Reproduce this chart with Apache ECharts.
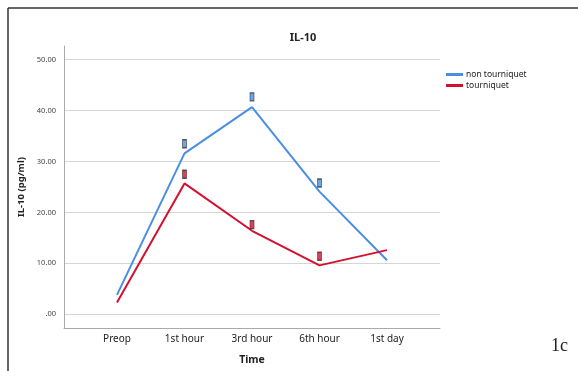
<!DOCTYPE html>
<html>
<head>
<meta charset="utf-8">
<script src="https://cdn.jsdelivr.net/npm/echarts@6/dist/echarts.min.js"></script>
<style>html,body{margin:0;padding:0;background:#fff;}#c{width:578px;height:371px;}</style>
</head>
<body>
<div id="c"></div>
<script>
var categories = ["Preop", "1st hour", "3rd hour", "6th hour", "1st day"];
var nonTourniquet = [3.8, 31.6, 40.7, 24.1, 10.6];
var tourniquet = [2.3, 25.7, 16.4, 9.6, 12.6];
var nonTourniquetMarks = [null, 33.5, 42.7, 25.8, null];
var tourniquetMarks = [null, 27.5, 17.6, 11.4, null];
var yTickValues = [0, 10, 20, 30, 40, 50];
var yTickLabels = [".00", "10.00", "20.00", "30.00", "40.00", "50.00"];

function toPairs(arr) {
  var out = [];
  arr.forEach(function (v, i) { if (v !== null) out.push([i, v]); });
  return out;
}

var BLUE = "#4A8FE4", RED = "#D4102E";
var chart = echarts.init(document.getElementById('c'), null, {renderer: 'canvas'});
chart.setOption({
  animation: false,
  backgroundColor: '#fff',
  title: {
    text: 'IL-10', left: 298, top: 27, textAlign: 'center',
    textStyle: {fontFamily: 'Noto Sans', fontSize: 11, fontWeight: 'bold', color: '#222'}
  },
  legend: {
    left: 441, top: 65, orient: 'vertical', itemGap: 2,
    itemWidth: 17, itemHeight: 3, icon: 'rect',
    textStyle: {fontFamily: 'Noto Sans', fontSize: 8.5, color: '#222', padding: [0,0,0,-2]},
    data: ['non tourniquet', 'tourniquet']
  },
  grid: {left: 64, right: 138, top: 46, bottom: 42, containLabel: false},
  xAxis: {
    type: 'value', min: -0.785, max: 4.785,
    name: 'Time', nameLocation: 'middle', nameGap: 27,
    nameTextStyle: {fontFamily: 'Noto Sans', fontSize: 10.5, fontWeight: 'bold', color: '#222'},
    axisLine: {show: true, onZero: false, lineStyle: {color: '#aaa', width: 1}},
    axisTick: {show: false, customValues: [0,1,2,3,4]},
    axisLabel: {customValues: [0,1,2,3,4], margin: 6,
      fontFamily: 'Noto Sans', fontSize: 10, color: '#222',
      formatter: function (v) { return categories[Math.round(v)]; }},
    splitLine: {show: false}
  },
  yAxis: {
    type: 'value', min: -2.7, max: 52.7,
    name: 'IL-10 (pg/ml)', nameLocation: 'middle', nameGap: 34, nameRotate: 90,
    nameTextStyle: {fontFamily: 'Noto Sans', fontSize: 9.5, fontWeight: 'bold', color: '#222'},
    axisLine: {show: true, onZero: false, lineStyle: {color: '#aaa', width: 1}},
    axisTick: {show: false, customValues: yTickValues},
    axisLabel: {customValues: yTickValues, margin: 8,
      fontFamily: 'Noto Sans', fontSize: 7.5, color: '#444',
      formatter: function (v) { return yTickLabels[yTickValues.indexOf(Math.round(v))]; }},
    splitLine: {show: true, lineStyle: {color: '#d6d6d6', width: 1.2}}
  },
  graphic: [
    {type: 'line', shape: {x1: 8, y1: 8, x2: 578, y2: 8}, style: {stroke: '#333', lineWidth: 1.5}},
    {type: 'line', shape: {x1: 8, y1: 8, x2: 8, y2: 371}, style: {stroke: '#333', lineWidth: 1.5}},
    {type: 'text', left: 551, top: 337, style: {text: '1c', font: '18px "Liberation Serif"', fill: '#222'}}
  ],
  series: [
    {name: 'non tourniquet', type: 'line', data: toPairs(nonTourniquet), symbol: 'none',
      lineStyle: {color: BLUE, width: 2}, itemStyle: {color: BLUE}, z: 3},
    {name: 'tourniquet', type: 'line', data: toPairs(tourniquet), symbol: 'none',
      lineStyle: {color: RED, width: 2}, itemStyle: {color: RED}, z: 3},
    {name: 'nt-mark', type: 'scatter', data: toPairs(nonTourniquetMarks), symbol: 'rect',
      symbolSize: [4, 8], itemStyle: {color: BLUE, borderColor: '#333', borderWidth: 1}, z: 4},
    {name: 't-mark', type: 'scatter', data: toPairs(tourniquetMarks), symbol: 'rect',
      symbolSize: [4, 8], itemStyle: {color: RED, borderColor: '#333', borderWidth: 1}, z: 4}
  ]
});
</script>
</body>
</html>
